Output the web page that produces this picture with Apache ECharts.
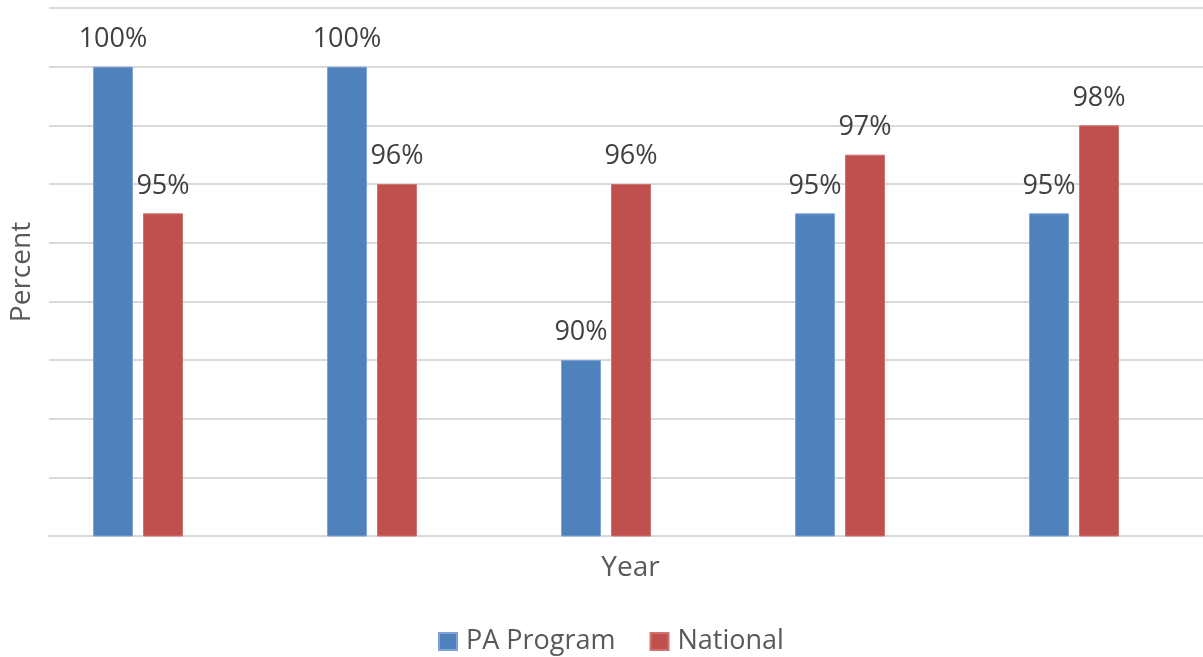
<!DOCTYPE html>
<html>
<head>
<meta charset="utf-8">
<script src="https://cdn.jsdelivr.net/npm/echarts@6/dist/echarts.min.js"></script>
<style>html,body{margin:0;padding:0;background:#fff}#c{width:1203px;height:657px}</style>
</head>
<body>
<div id="c"></div>
<script>
var categories = ['1', '2', '3', '4', '5'];
var paProgram = [100, 100, 90, 95, 95];
var national = [95, 96, 96, 97, 98];
var yMin = 84, yMax = 102, yStep = 2;

var font = '"Open Sans", sans-serif';
var chart = echarts.init(document.getElementById('c'));
var labelStyle = {show: true, position: 'top', distance: 14, formatter: '{c}%', fontFamily: font, fontSize: 27, color: '#404040'};
chart.setOption({
  animation: false,
  textStyle: {fontFamily: font},
  grid: [
    {left: 47, right: 0, top: 8, bottom: 121},
    {left: 21, right: 12, top: 8, bottom: 121}
  ],
  xAxis: [
    {gridIndex: 0, type: 'category', data: categories, axisLabel: {show: false}, axisTick: {show: false},
     axisLine: {show: true, lineStyle: {color: '#d9d9d9', width: 2}},
     name: 'Year', nameLocation: 'middle', nameGap: 18,
     nameTextStyle: {fontFamily: font, fontSize: 28, color: '#595959', padding: [0, 0, 0, 9]}},
    {gridIndex: 1, type: 'category', data: categories, axisLabel: {show: false}, axisTick: {show: false}, axisLine: {show: false}}
  ],
  yAxis: [
    {gridIndex: 0, type: 'value', min: yMin, max: yMax, interval: yStep, axisLabel: {show: false},
     axisLine: {show: false}, axisTick: {show: false},
     splitLine: {show: true, lineStyle: {color: '#d9d9d9', width: 2}},
     name: 'Percent', nameLocation: 'middle', nameGap: 13, nameRotate: 90,
     nameTextStyle: {fontFamily: font, fontSize: 28, color: '#595959'}},
    {gridIndex: 1, type: 'value', min: yMin, max: yMax, interval: yStep, show: false, splitLine: {show: false}}
  ],
  legend: {
    bottom: -3, left: 433, itemWidth: 18, itemHeight: 17, itemGap: 34,
    icon: 'rect',
    textStyle: {fontFamily: font, fontSize: 27, color: '#595959', padding: [0, 0, 0, 4]},
    data: ['PA Program', 'National']
  },
  series: [
    {name: 'PA Program', type: 'bar', xAxisIndex: 1, yAxisIndex: 1, data: paProgram, barWidth: 40, barGap: '25%',
     itemStyle: {color: '#4F81BD', borderColor: '#7FA3D6', borderWidth: 1}, label: labelStyle},
    {name: 'National', type: 'bar', xAxisIndex: 1, yAxisIndex: 1, data: national, barWidth: 40, barGap: '25%',
     itemStyle: {color: '#C0504D', borderColor: '#D0736F', borderWidth: 1}, label: labelStyle}
  ]
});
</script>
</body>
</html>
